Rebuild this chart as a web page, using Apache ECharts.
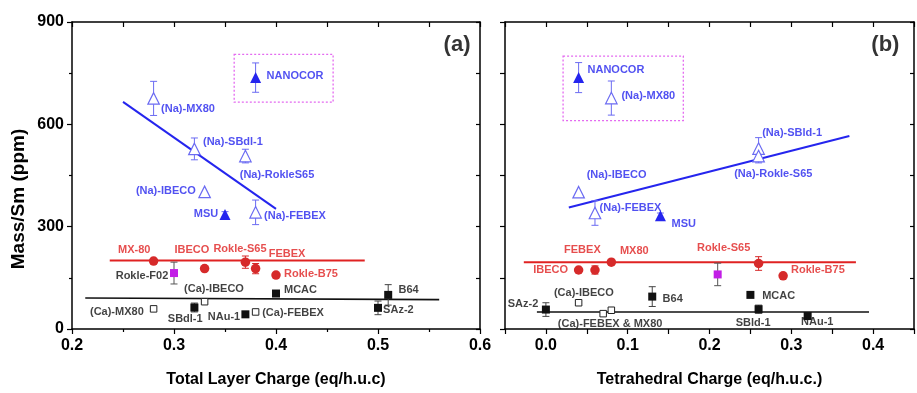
<!DOCTYPE html>
<html>
<head>
<meta charset="utf-8">
<script src="https://cdn.jsdelivr.net/npm/echarts@6/dist/echarts.min.js"></script>
<style>
html,body{margin:0;padding:0;background:#fff;}
#c{width:917px;height:393px;}
</style>
</head>
<body>
<div id="c"></div>
<script>
// ---------- DATA: panel (a) Total Layer Charge ----------  [x, y, error]
const aNaOpen      = [[0.28, 676, 50], [0.32, 528, 32], [0.37, 507, 20], [0.33, 402, 0], [0.38, 342, 36]];
const aNaFilled    = [[0.38, 737, 43], [0.35, 336, 8]];
const aRed         = [[0.28, 199, 0], [0.33, 177, 0], [0.37, 196, 18], [0.38, 177, 15], [0.40, 158, 0]];
const aMagenta     = [[0.30, 164, 32]];
const aBlackFilled = [[0.32, 63, 13], [0.37, 43, 0], [0.40, 104, 8], [0.51, 100, 30], [0.50, 62, 20]];
const aBlackOpen   = [[0.28, 59, 0], [0.33, 80, 0], [0.38, 50, 0]];
const aBlueFit     = [[0.25, 666], [0.40, 352]];
const aRedFit      = [[0.237, 201], [0.487, 201]];
const aBlackFit    = [[0.213, 91], [0.56, 86]];
const aBox         = [[0.359, 805], [0.456, 665]];
const aBlueLabels  = [['NANOCOR', 0.4186, 741], ['(Na)-MX80', 0.3137, 646], ['(Na)-SBdl-1', 0.3578, 548],
                      ['(Na)-RokleS65', 0.401, 452], ['(Na)-IBECO', 0.292, 406], ['MSU', 0.3314, 338], ['(Na)-FEBEX', 0.4186, 332]];
const aRedLabels   = [['MX-80', 0.261, 231], ['IBECO', 0.3176, 231], ['Rokle-S65', 0.3647, 236], ['FEBEX', 0.4108, 220], ['Rokle-B75', 0.4343, 162]];
const aBlackLabels = [['Rokle-F02', 0.2686, 156], ['(Ca)-IBECO', 0.3392, 117], ['MCAC', 0.424, 113], ['B64', 0.53, 113],
                      ['(Ca)-MX80', 0.244, 50], ['SBdl-1', 0.311, 28], ['NAu-1', 0.349, 36], ['(Ca)-FEBEX', 0.4167, 47], ['SAz-2', 0.52, 55]];
const aTag         = [['(a)', 0.5775, 834]];

// ---------- DATA: panel (b) Tetrahedral Charge ----------
const bNaOpen      = [[0.08, 677, 50], [0.26, 529, 32], [0.26, 507, 20], [0.04, 401, 0], [0.06, 340, 36]];
const bNaFilled    = [[0.04, 737, 44], [0.14, 332, 8]];
const bRed         = [[0.04, 173, 0], [0.06, 173, 12], [0.08, 196, 0], [0.26, 192, 20], [0.29, 156, 0]];
const bMagenta     = [[0.21, 160, 33]];
const bBlackFilled = [[0.0, 57, 20], [0.13, 95, 29], [0.25, 100, 0], [0.26, 58, 12], [0.32, 38, 0]];
const bBlackOpen   = [[0.04, 77, 0], [0.07, 45, 0], [0.08, 55, 0]];
const bBlueFit     = [[0.028, 356], [0.371, 566]];
const bRedFit      = [[-0.027, 196], [0.379, 196]];
const bBlackFit    = [[-0.011, 50], [0.395, 50]];
const bBox         = [[0.021, 800], [0.168, 611]];
const bBlueLabels  = [['NANOCOR', 0.0856, 760], ['(Na)-MX80', 0.1252, 683], ['(Na)-SBld-1', 0.301, 574], ['(Na)-Rokle-S65', 0.278, 454],
                      ['(Na)-IBECO', 0.0864, 451], ['(Na)-FEBEX', 0.1034, 355], ['MSU', 0.1685, 308]];
const bRedLabels   = [['FEBEX', 0.0446, 231], ['MX80', 0.108, 228], ['IBECO', 0.0058, 172], ['Rokle-S65', 0.2173, 237], ['Rokle-B75', 0.3325, 172]];
const bBlackLabels = [['(Ca)-IBECO', 0.0464, 105], ['B64', 0.155, 87], ['MCAC', 0.2846, 96], ['SAz-2', -0.028, 74],
                      ['(Ca)-FEBEX & MX80', 0.0785, 15], ['SBld-1', 0.2533, 19], ['NAu-1', 0.3317, 21]];
const bTag         = [['(b)', 0.415, 834]];

const yTicks = [0, 300, 600, 900];
const xTitleA = 'Total Layer Charge (eq/h.u.c)';
const xTitleB = 'Tetrahedral Charge (eq/h.u.c.)';
const yTitle  = 'Mass/Sm (ppm)';

// ---------- STYLE ----------
const FONT = '"Liberation Sans", Arial, sans-serif';
const BLUE = '#2525ee', BLUE_LIGHT = '#6b6bf2', RED = '#e02222', RED_PT = '#d62a2a', MAG = '#c21ee6', BOX = '#e46af0', BLACK = '#111';

function errSeries(data, color, xi, yi) {
  return {
    type: 'custom', xAxisIndex: xi, yAxisIndex: yi, silent: true, z: 3,
    data: data,
    renderItem: function (params, api) {
      const x = api.value(0), y = api.value(1), e = api.value(2);
      if (!e) return null;
      const t = api.coord([x, y + e]), b = api.coord([x, y - e]);
      const w = 3.5;
      const st = { stroke: color, lineWidth: 1 };
      return { type: 'group', children: [
        { type: 'line', shape: { x1: t[0], y1: t[1], x2: b[0], y2: b[1] }, style: st },
        { type: 'line', shape: { x1: t[0] - w, y1: t[1], x2: t[0] + w, y2: t[1] }, style: st },
        { type: 'line', shape: { x1: b[0] - w, y1: b[1], x2: b[0] + w, y2: b[1] }, style: st }
      ]};
    }
  };
}
function boxSeries(box, xi, yi) {
  return {
    type: 'custom', xAxisIndex: xi, yAxisIndex: yi, silent: true, z: 1,
    data: [[box[0][0], box[0][1], box[1][0], box[1][1]]],
    renderItem: function (params, api) {
      const p0 = api.coord([api.value(0), api.value(1)]);
      const p1 = api.coord([api.value(2), api.value(3)]);
      return { type: 'rect', shape: { x: p0[0], y: p0[1], width: p1[0] - p0[0], height: p1[1] - p0[1] },
               style: { fill: 'none', stroke: BOX, lineWidth: 1.3, lineDash: [2, 2] } };
    }
  };
}
function scatter(data, symbol, size, fill, border, xi, yi, bw) {
  return { type: 'scatter', xAxisIndex: xi, yAxisIndex: yi, symbol: symbol, symbolSize: size, silent: true, z: 4,
           data: data.map(d => [d[0], d[1]]),
           itemStyle: { color: fill, borderColor: border, borderWidth: bw || 0, opacity: 1 } };
}
function fit(data, color, width, xi, yi) {
  return { type: 'line', xAxisIndex: xi, yAxisIndex: yi, data: data, symbol: 'none', silent: true, z: 2,
           lineStyle: { color: color, width: width } };
}
function labels(list, color, size, xi, yi) {
  return { type: 'scatter', xAxisIndex: xi, yAxisIndex: yi, symbol: 'circle', symbolSize: 0.1, silent: true, z: 6,
           itemStyle: { color: 'transparent' },
           data: list.map(l => ({ name: l[0], value: [l[1], l[2]] })),
           label: { show: true, position: 'inside', formatter: p => p.name, color: color,
                    fontFamily: FONT, fontWeight: 'bold', fontSize: size, align: 'center', verticalAlign: 'middle' } };
}
function panelSeries(p, xi, yi) {
  return [
    boxSeries(p.box, xi, yi),
    fit(p.blueFit, BLUE, 2, xi, yi),
    fit(p.redFit, RED, 2, xi, yi),
    fit(p.blackFit, BLACK, 1.6, xi, yi),
    errSeries(p.naOpen, BLUE_LIGHT, xi, yi),
    errSeries(p.naFilled, BLUE_LIGHT, xi, yi),
    errSeries(p.red, RED_PT, xi, yi),
    errSeries(p.mag, '#555', xi, yi),
    errSeries(p.blackFilled, '#444', xi, yi),
    scatter(p.naOpen, 'triangle', 11.5, '#fff', BLUE_LIGHT, xi, yi, 1.2),
    scatter(p.naFilled, 'triangle', 11, BLUE, BLUE, xi, yi, 0),
    scatter(p.red, 'circle', 9.5, RED_PT, RED_PT, xi, yi, 0),
    scatter(p.mag, 'rect', 8, MAG, MAG, xi, yi, 0),
    scatter(p.blackFilled, 'rect', 8, BLACK, BLACK, xi, yi, 0),
    scatter(p.blackOpen, 'rect', 6.5, '#fff', '#222', xi, yi, 1),
    labels(p.blueLabels, BLUE, 11, xi, yi),
    labels(p.redLabels, RED, 11, xi, yi),
    labels(p.blackLabels, BLACK, 11, xi, yi),
    labels(p.tag, '#000', 22, xi, yi)
  ];
}

const panelA = { box: aBox, blueFit: aBlueFit, redFit: aRedFit, blackFit: aBlackFit, naOpen: aNaOpen, naFilled: aNaFilled,
  red: aRed, mag: aMagenta, blackFilled: aBlackFilled, blackOpen: aBlackOpen, blueLabels: aBlueLabels, redLabels: aRedLabels,
  blackLabels: aBlackLabels, tag: aTag };
const panelB = { box: bBox, blueFit: bBlueFit, redFit: bRedFit, blackFit: bBlackFit, naOpen: bNaOpen, naFilled: bNaFilled,
  red: bRed, mag: bMagenta, blackFilled: bBlackFilled, blackOpen: bBlackOpen, blueLabels: bBlueLabels, redLabels: bRedLabels,
  blackLabels: bBlackLabels, tag: bTag };

const AX = { onZero: false, lineStyle: { color: '#000', width: 1.5 } };
const labelFont = { fontFamily: FONT, fontWeight: 'bold', fontSize: 16, color: '#000' };
const titleFont = { fontFamily: FONT, fontWeight: 'bold', fontSize: 16, color: '#000' };

const chart = echarts.init(document.getElementById('c'), null, { renderer: 'canvas' });
chart.setOption({
  animation: false,
  backgroundColor: '#fff',
  grid: [
    { left: 72, top: 22, width: 408, height: 312 },
    { left: 505, top: 22, width: 412.5, height: 312 }
  ],
  graphic: [
    { type: 'text', x: 19, y: 199, rotation: Math.PI / 2, silent: true,
      style: { text: yTitle, font: 'bold 19px ' + FONT, fill: '#000', align: 'center', verticalAlign: 'middle' } }
  ],
  xAxis: [
    { gridIndex: 0, type: 'value', position: 'bottom', min: 0.2, max: 0.6, interval: 0.1,
      name: xTitleA, nameLocation: 'middle', nameGap: 43, nameTextStyle: titleFont,
      axisLine: AX, axisTick: { show: true, inside: false, length: 5, lineStyle: { width: 1.2 } },
      minorTick: { show: true, splitNumber: 2, length: 3, lineStyle: { color: '#000', width: 1.2 } },
      axisLabel: Object.assign({ margin: 9, formatter: v => v.toFixed(1) }, labelFont), splitLine: { show: false } },
    { gridIndex: 0, type: 'value', position: 'top', min: 0.2, max: 0.6, interval: 0.05,
      axisLine: AX, axisTick: { show: true, inside: true, length: 5, lineStyle: { width: 1.2 } },
      axisLabel: { show: false }, splitLine: { show: false } },
    { gridIndex: 1, type: 'value', position: 'bottom', min: -0.05, max: 0.45, interval: 0.05,
      name: xTitleB, nameLocation: 'middle', nameGap: 43, nameTextStyle: titleFont,
      axisLine: AX, axisTick: { show: true, inside: false, length: 5, lineStyle: { width: 1.2 } },
      axisLabel: Object.assign({ margin: 9, showMinLabel: true, showMaxLabel: true,
        formatter: v => (Math.round(v * 100) % 10 === 0 ? (Math.round(v * 10) / 10).toFixed(1) : '') }, labelFont),
      splitLine: { show: false } },
    { gridIndex: 1, type: 'value', position: 'top', min: -0.05, max: 0.45, interval: 0.05,
      axisLine: AX, axisTick: { show: true, inside: true, length: 5, lineStyle: { width: 1.2 } },
      axisLabel: { show: false }, splitLine: { show: false } }
  ],
  yAxis: [
    { gridIndex: 0, type: 'value', position: 'left', min: 0, max: 900, interval: 300,
      axisLine: AX, axisTick: { show: true, inside: false, length: 5, lineStyle: { width: 1.2 } },
      minorTick: { show: true, splitNumber: 2, length: 3, lineStyle: { color: '#000', width: 1.2 } },
      axisLabel: Object.assign({ margin: 8, customValues: yTicks }, labelFont), splitLine: { show: false } },
    { gridIndex: 0, type: 'value', position: 'right', min: 0, max: 900, interval: 150,
      axisLine: AX, axisTick: { show: true, inside: true, length: 4, lineStyle: { width: 1.2 } },
      axisLabel: { show: false }, splitLine: { show: false } },
    { gridIndex: 1, type: 'value', position: 'left', min: 0, max: 900, interval: 150,
      axisLine: AX, axisTick: { show: true, inside: false, length: 5, lineStyle: { width: 1.2 } },
      axisLabel: { show: false }, splitLine: { show: false } },
    { gridIndex: 1, type: 'value', position: 'right', min: 0, max: 900, interval: 150,
      axisLine: AX, axisTick: { show: true, inside: true, length: 4, lineStyle: { width: 1.2 } },
      axisLabel: { show: false }, splitLine: { show: false } }
  ],
  series: [].concat(panelSeries(panelA, 0, 0), panelSeries(panelB, 2, 2))
});
</script>
</body>
</html>
